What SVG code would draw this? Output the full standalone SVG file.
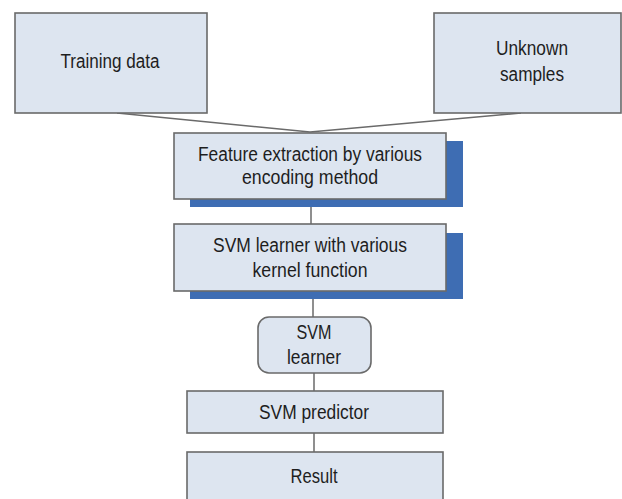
<svg xmlns="http://www.w3.org/2000/svg" width="622" height="499" viewBox="0 0 622 499">
<style>
.box{fill:#dde5f0;stroke:#6a6a6a;stroke-width:1.6}
.sh{fill:#3e6db3}
.t{font-family:"Liberation Sans",Arial,sans-serif;font-size:20px;fill:#1e1e1e;text-anchor:middle}
.c{stroke:#6a6a6a;stroke-width:1.5;fill:none}
</style>
<rect width="622" height="499" fill="#fff"/>
<g id="connectors">
<path class="c" d="M117 113 L310 132 L521 113"/>
<line class="c" x1="311" y1="199" x2="311" y2="224"/>
<line class="c" x1="313" y1="291" x2="313" y2="317"/>
<line class="c" x1="314" y1="373" x2="314" y2="391"/>
<line class="c" x1="314" y1="433" x2="314" y2="452"/>
</g>
<g id="training">
<rect class="box" x="15" y="13" width="192" height="100"/>
<text class="t" x="110" y="68" textLength="99" lengthAdjust="spacingAndGlyphs">Training data</text>
</g>
<g id="unknown">
<rect class="box" x="434" y="13" width="187" height="100"/>
<text class="t" x="532" y="55" textLength="72" lengthAdjust="spacingAndGlyphs">Unknown</text>
<text class="t" x="532" y="81" textLength="64" lengthAdjust="spacingAndGlyphs">samples</text>
</g>
<g id="feature">
<rect class="sh" x="190" y="141" width="273" height="66"/>
<rect class="box" x="174" y="133" width="272" height="66"/>
<text class="t" x="310" y="161" textLength="224" lengthAdjust="spacingAndGlyphs">Feature extraction by various</text>
<text class="t" x="310" y="184" textLength="136" lengthAdjust="spacingAndGlyphs">encoding method</text>
</g>
<g id="svmkernel">
<rect class="sh" x="190" y="233" width="273" height="66"/>
<rect class="box" x="174" y="224" width="272" height="67"/>
<text class="t" x="310" y="252" textLength="194" lengthAdjust="spacingAndGlyphs">SVM learner with various</text>
<text class="t" x="310" y="277" textLength="115" lengthAdjust="spacingAndGlyphs">kernel function</text>
</g>
<g id="svmlearner">
<rect class="box" x="258" y="317" width="113" height="56" rx="11"/>
<text class="t" x="314" y="339" textLength="35" lengthAdjust="spacingAndGlyphs">SVM</text>
<text class="t" x="314" y="364" textLength="54" lengthAdjust="spacingAndGlyphs">learner</text>
</g>
<g id="predictor">
<rect class="box" x="187" y="391" width="256" height="42"/>
<text class="t" x="314" y="419" textLength="110" lengthAdjust="spacingAndGlyphs">SVM predictor</text>
</g>
<g id="result">
<rect class="box" x="187" y="452" width="256" height="60"/>
<text class="t" x="314" y="483" textLength="47" lengthAdjust="spacingAndGlyphs">Result</text>
</g>
</svg>
